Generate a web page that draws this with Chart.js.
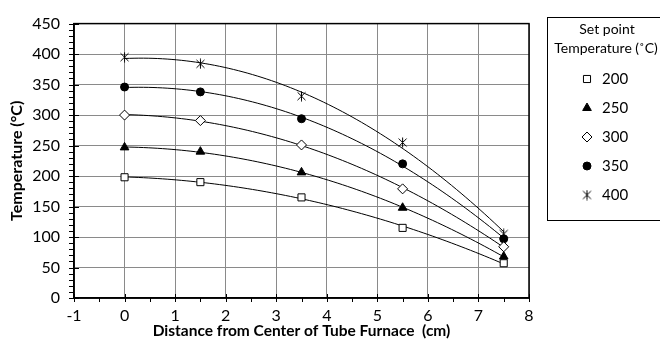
<!DOCTYPE html>
<html>
<head>
<meta charset="utf-8">
<script src="https://cdn.jsdelivr.net/npm/chart.js@4/dist/chart.umd.min.js"></script>
<style>
  html, body { margin: 0; padding: 0; background: #fff; }
  #wrap { width: 660px; height: 344px; position: relative; }
</style>
</head>
<body>
<div id="wrap"><canvas id="c" width="660" height="344"></canvas></div>
<script>
// Measured furnace temperature profiles
const distances = [0, 1.5, 3.5, 5.5, 7.5];          // cm from centre of tube
const setPoints = ['200', '250', '300', '350', '400']; // set point (°C)
const temps200 = [198, 190, 165, 115, 57];
const temps250 = [247, 240, 206, 148, 68];
const temps300 = [300, 291, 251, 179, 84];
const temps350 = [346, 338, 294, 220, 97];
const temps400 = [395, 384, 331, 255, 105];
const xTicks = [-1, 0, 1, 2, 3, 4, 5, 6, 7, 8];
const yTicks = [0, 50, 100, 150, 200, 250, 300, 350, 400, 450];

const FONT = 'Lato';

// asterisk marker: an X with a vertical stroke
function makeStar() {
  const c = document.createElement('canvas');
  c.width = 11; c.height = 11;
  const g = c.getContext('2d');
  g.strokeStyle = '#000';
  g.lineWidth = 1;
  g.beginPath();
  g.moveTo(1.5, 1.5); g.lineTo(9.5, 9.5);
  g.moveTo(9.5, 1.5); g.lineTo(1.5, 9.5);
  g.moveTo(5.5, 0.5); g.lineTo(5.5, 10.5);
  g.stroke();
  return c;
}
const starMarker = makeStar();

const seriesValues = [temps200, temps250, temps300, temps350, temps400];
const markerStyles = [
  { pointStyle: 'rect', radius: 5, fill: '#fff' },
  { pointStyle: 'triangle', radius: 5, fill: '#000' },
  { pointStyle: 'rectRot', radius: 5, fill: '#fff' },
  { pointStyle: 'circle', radius: 4, fill: '#000' },
  { pointStyle: starMarker, radius: 5, fill: '#000' }
];

const datasets = seriesValues.map((vals, i) => ({
  label: setPoints[i],
  data: distances.map((d, j) => ({ x: d, y: vals[j] })),
  pointStyle: markerStyles[i].pointStyle,
  pointRadius: markerStyles[i].radius,
  pointHoverRadius: markerStyles[i].radius,
  pointBackgroundColor: markerStyles[i].fill,
  pointBorderColor: '#000',
  pointBorderWidth: 1,
  showLine: false
}));

// least-squares second order polynomial (trendline)
function quadFit(xs, ys) {
  let n = xs.length, s = [0, 0, 0, 0, 0], t = [0, 0, 0];
  for (let k = 0; k < n; k++) {
    const x = xs[k], y = ys[k];
    let p = 1;
    for (let m = 0; m <= 4; m++) { s[m] += p; if (m <= 2) t[m] += p * y; p *= x; }
  }
  const A = [[s[0], s[1], s[2], t[0]], [s[1], s[2], s[3], t[1]], [s[2], s[3], s[4], t[2]]];
  for (let i = 0; i < 3; i++) {
    for (let r = i + 1; r < 3; r++) {
      const f = A[r][i] / A[i][i];
      for (let c = i; c < 4; c++) A[r][c] -= f * A[i][c];
    }
  }
  const coef = [0, 0, 0];
  for (let i = 2; i >= 0; i--) {
    let v = A[i][3];
    for (let c = i + 1; c < 3; c++) v -= A[i][c] * coef[c];
    coef[i] = v / A[i][i];
  }
  return coef;
}

const trendlines = {
  id: 'trendlines',
  beforeDatasetsDraw(chart) {
    const { ctx, chartArea, scales: { x, y } } = chart;
    ctx.save();
    ctx.beginPath();
    ctx.rect(chartArea.left, chartArea.top, chartArea.right - chartArea.left, chartArea.bottom - chartArea.top);
    ctx.clip();
    ctx.strokeStyle = '#000';
    ctx.lineWidth = 1;
    const x0 = distances[0], x1 = distances[distances.length - 1];
    seriesValues.forEach(vals => {
      const c = quadFit(distances, vals);
      ctx.beginPath();
      const steps = 80;
      for (let k = 0; k <= steps; k++) {
        const xv = x0 + (x1 - x0) * k / steps;
        const yv = c[0] + c[1] * xv + c[2] * xv * xv;
        const px = x.getPixelForValue(xv), py = y.getPixelForValue(yv);
        if (k === 0) ctx.moveTo(px, py); else ctx.lineTo(px, py);
      }
      ctx.stroke();
    });
    ctx.restore();
  }
};

// plot frame, crossing major ticks, outside minor ticks, and the legend box
const frameAndLegend = {
  id: 'frameAndLegend',
  afterDraw(chart) {
    const { ctx, chartArea: a, scales: { x, y } } = chart;
    ctx.save();
    ctx.strokeStyle = '#000';
    ctx.lineWidth = 1.5;
    ctx.strokeRect(a.left, a.top, a.right - a.left, a.bottom - a.top);

    ctx.lineWidth = 1;
    ctx.beginPath();
    // y axis: minor every 10, major every 50
    for (let v = y.min; v <= y.max; v += 10) {
      const py = Math.round(y.getPixelForValue(v)) + 0.5;
      if (v % 50 === 0) { ctx.moveTo(a.left - 5, py); ctx.lineTo(a.left + 5, py); }
      else { ctx.moveTo(a.left - 5, py); ctx.lineTo(a.left, py); }
    }
    // x axis: minor every 0.5, major every 1
    for (let v = x.min; v <= x.max + 1e-9; v += 0.5) {
      const px = Math.round(x.getPixelForValue(v)) + 0.5;
      if (Math.abs(v - Math.round(v)) < 1e-9) { ctx.moveTo(px, a.bottom - 4); ctx.lineTo(px, a.bottom + 4); }
      else { ctx.moveTo(px, a.bottom); ctx.lineTo(px, a.bottom + 4); }
    }
    ctx.stroke();

    // legend
    ctx.lineWidth = 1;
    ctx.strokeRect(547.5, 17.5, 130, 203);
    ctx.fillStyle = '#000';
    ctx.font = '14px ' + FONT;
    ctx.textAlign = 'center';
    ctx.textBaseline = 'middle';
    ctx.fillText('Set point', 607, 29);
    ctx.fillText('Temperature (\u02DAC)', 606, 48);
    ctx.textAlign = 'left';
    ctx.font = '15px ' + FONT;
    setPoints.forEach((lbl, i) => {
      const cy = 79 + 29 * i;
      const m = markerStyles[i];
      ctx.fillStyle = m.fill;
      ctx.strokeStyle = '#000';
      ctx.lineWidth = 1;
      Chart.helpers.drawPoint(ctx, { pointStyle: m.pointStyle, radius: m.radius, rotation: 0, borderWidth: 1 }, 587, cy);
      ctx.fillStyle = '#000';
      ctx.fillText(lbl, 602, cy);
    });
    ctx.restore();
  }
};

new Chart(document.getElementById('c'), {
  type: 'scatter',
  data: { datasets },
  options: {
    responsive: false,
    devicePixelRatio: 1,
    animation: false,
    events: [],
    layout: { padding: { top: 17, right: 131, left: 0, bottom: 0 } },
    plugins: { legend: { display: false }, tooltip: { enabled: false } },
    scales: {
      x: {
        type: 'linear',
        min: -1, max: 8,
        afterFit(s) { s.height = 46; },
        afterBuildTicks(s) { s.ticks = xTicks.map(v => ({ value: v })); },
        ticks: { color: '#000', font: { family: FONT, size: 16 }, padding: 8 },
        grid: { color: '#8a8a8a', lineWidth: 1, drawTicks: false },
        border: { display: true, color: '#000', width: 1.5 },
        title: {
          display: true,
          text: 'Distance from Center of Tube Furnace  (cm)',
          color: '#000',
          font: { family: FONT, size: 15.5, weight: 'bold' },
          padding: { top: 0, bottom: 4 }
        }
      },
      y: {
        type: 'linear',
        min: 0, max: 450,
        afterFit(s) { s.width = 74; },
        afterBuildTicks(s) { s.ticks = yTicks.map(v => ({ value: v })); },
        ticks: { color: '#000', font: { family: FONT, size: 16 }, padding: 14 },
        grid: { color: '#8a8a8a', lineWidth: 1, drawTicks: false },
        border: { display: true, color: '#000', width: 1.5 },
        title: {
          display: true,
          text: 'Temperature (°C)',
          color: '#000',
          font: { family: FONT, size: 16, weight: 'bold' },
          padding: { top: 7, bottom: 0 }
        }
      }
    }
  },
  plugins: [trendlines, frameAndLegend]
});
</script>
</body>
</html>
